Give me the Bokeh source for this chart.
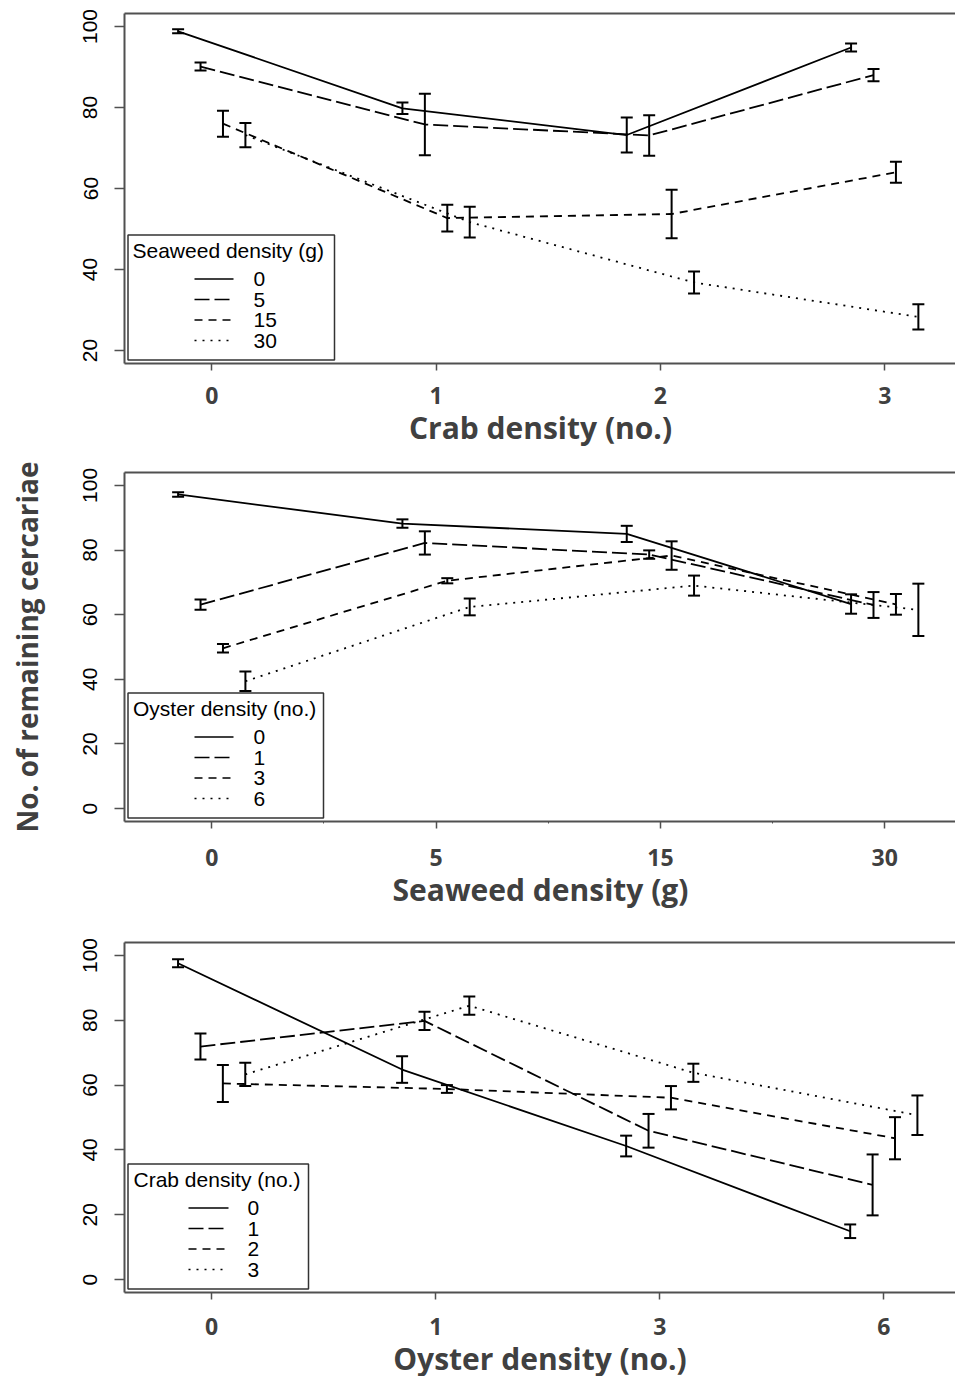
import numpy as np
from bokeh.plotting import figure
from bokeh.layouts import column
from bokeh.models import (ColumnDataSource, Whisker, TeeHead, FixedTicker,
                          LinearAxis, Range1d, BoxAnnotation, Label, Arrow)
from bokeh.embed import file_html
from bokeh.resources import INLINE

# ---------------- data ----------------
# Panel 1: x = crab density, series = seaweed density
p1_x_labels = ["0", "1", "2", "3"]
p1_series = ["0", "5", "15", "30"]
p1_means = [[98.8, 79.8, 73.2, 94.8],
            [90.1, 75.8, 73.1, 88.0],
            [76.0, 52.7, 53.7, 64.0],
            [73.2, 51.7, 36.8, 28.3]]
p1_errs = [[0.5, 1.4, 4.3, 1.0],
           [1.0, 7.6, 5.0, 1.5],
           [3.2, 3.3, 6.0, 2.6],
           [3.0, 3.8, 2.7, 3.1]]

# Panel 2: x = seaweed density, series = oyster density
p2_x_labels = ["0", "5", "15", "30"]
p2_series = ["0", "1", "3", "6"]
p2_means = [[97.2, 88.2, 85.0, 63.3],
            [63.1, 82.2, 78.6, 63.0],
            [49.6, 70.5, 78.3, 63.2],
            [39.4, 62.4, 69.0, 61.5]]
p2_errs = [[0.7, 1.3, 2.5, 3.0],
           [1.6, 3.6, 1.3, 4.0],
           [1.3, 0.8, 4.4, 3.2],
           [3.0, 2.6, 3.1, 8.1]]

# Panel 3: x = oyster density, series = crab density
p3_x_labels = ["0", "1", "3", "6"]
p3_series = ["0", "1", "2", "3"]
p3_means = [[97.6, 64.8, 41.2, 14.9],
            [71.9, 79.8, 45.9, 29.2],
            [60.5, 58.8, 56.1, 43.6],
            [63.3, 84.5, 63.8, 50.7]]
p3_errs = [[1.2, 4.1, 3.2, 2.1],
           [4.0, 2.8, 5.2, 9.4],
           [5.7, 1.2, 3.6, 6.5],
           [3.6, 2.8, 2.8, 6.1]]

Y_TITLE = "No. of remaining cercariae"

# ---------------- styles ----------------
OFFSETS = [-0.15, -0.05, 0.05, 0.15]
DASHES = ["solid", "15 5", "8 6", "2 6"]
AXIS_COL = "#505050"
TEXT_COL = "#404040"
TITLE_FONT = "Open Sans"
R_FONT = "Liberation Sans"
X_START, X_END = -0.389, 3.32


def add_legend(p, title, series, box_right, glyph_x0, glyph_x1, label_x, title_x):
    # screen units measured from the frame's bottom-left corner
    box = BoxAnnotation(left=3.5, right=box_right, bottom=3.5, top=128.5,
                        left_units="screen", right_units="screen",
                        bottom_units="screen", top_units="screen",
                        fill_color="white", fill_alpha=1.0,
                        line_color="#333333", line_width=1.5, line_alpha=1.0)
    p.add_layout(box)
    p.add_layout(Label(x=title_x, y=113, x_units="screen", y_units="screen",
                       text=title, text_font=R_FONT, text_font_size="21px",
                       text_color="black", text_baseline="middle", text_align="left"))
    rows = [84.5, 64.0, 43.5, 23.0]
    for k, s in enumerate(series):
        p.add_layout(Arrow(end=None, x_start=glyph_x0, x_end=glyph_x1,
                           y_start=rows[k], y_end=rows[k],
                           start_units="screen", end_units="screen",
                           line_color="black", line_width=1.7, line_dash=DASHES[k]))
        p.add_layout(Label(x=label_x, y=rows[k], x_units="screen", y_units="screen",
                           text=s, text_font=R_FONT, text_font_size="21px",
                           text_color="black", text_baseline="middle",
                           text_align="left"))


def title_axis(label, standoff, size):
    ax = LinearAxis(ticker=FixedTicker(ticks=[]))
    ax.axis_line_color = None
    ax.major_tick_out = 0
    ax.major_tick_in = 0
    ax.minor_tick_out = 0
    ax.minor_tick_in = 0
    ax.major_label_standoff = 0
    ax.major_label_text_font_size = "0px"
    ax.axis_label = label
    ax.axis_label_text_font = TITLE_FONT
    ax.axis_label_text_font_style = "bold"
    ax.axis_label_text_font_size = size
    ax.axis_label_text_color = TEXT_COL
    ax.axis_label_standoff = standoff
    return ax


def make_panel(x_labels, series, means, errs, y_range, y_ticks, legend_title,
               x_title, frame_h, top, bottom, left, legend_geom,
               minor=False, y_title=None, label_standoff=12, title_standoff=2):
    p = figure(width=955, height=top + frame_h + bottom,
               frame_width=955 - left, frame_height=frame_h,
               x_range=Range1d(X_START, X_END), y_range=Range1d(*y_range),
               output_backend="svg", toolbar_location=None,
               min_border_left=left, min_border_right=0,
               min_border_top=top, min_border_bottom=bottom,
               x_axis_location=None, y_axis_location=None)
    p.outline_line_color = None
    p.xgrid.visible = False
    p.ygrid.visible = False
    p.background_fill_color = "white"
    p.border_fill_color = "white"

    xs = np.arange(len(x_labels))
    for k in range(len(series)):
        x = xs + OFFSETS[k]
        m = np.array(means[k])
        e = np.array(errs[k])
        src = ColumnDataSource(dict(x=x, y=m, lo=m - e, hi=m + e))
        p.line("x", "y", source=src, line_color="black", line_width=1.8,
               line_dash=DASHES[k])
        w = Whisker(base="x", upper="hi", lower="lo", source=src,
                    line_color="black", line_width=2,
                    upper_head=TeeHead(size=12, line_width=2, line_color="black"),
                    lower_head=TeeHead(size=12, line_width=2, line_color="black"))
        p.add_layout(w)

    # left axis
    ya = LinearAxis(ticker=FixedTicker(ticks=y_ticks))
    ya.axis_line_color = AXIS_COL
    ya.axis_line_width = 2
    ya.major_tick_out = 10
    ya.major_tick_in = 0
    ya.major_tick_line_color = AXIS_COL
    ya.major_tick_line_width = 1.5
    ya.minor_tick_out = 0
    ya.minor_tick_in = 0
    ya.major_label_orientation = "vertical"
    ya.major_label_text_font = R_FONT
    ya.major_label_text_font_size = "21px"
    ya.major_label_text_color = "black"
    ya.major_label_standoff = 17
    p.add_layout(ya, "left")
    if y_title:
        p.add_layout(title_axis(y_title, 35, "28px"), "left")

    # bottom axis
    minor_ticks = [-0.5, 0.5, 1.5, 2.5, 3.5] if minor else []
    xa = LinearAxis(ticker=FixedTicker(ticks=list(range(len(x_labels))),
                                       minor_ticks=minor_ticks))
    xa.major_label_overrides = {i: s for i, s in enumerate(x_labels)}
    xa.axis_line_color = AXIS_COL
    xa.axis_line_width = 2
    xa.major_tick_out = 7
    xa.major_tick_in = 0
    xa.major_tick_line_color = AXIS_COL
    xa.major_tick_line_width = 1.5
    xa.minor_tick_out = 2 if minor else 0
    xa.minor_tick_in = 0
    xa.minor_tick_line_color = AXIS_COL
    xa.major_label_text_font = TITLE_FONT
    xa.major_label_text_font_style = "bold"
    xa.major_label_text_font_size = "23px"
    xa.major_label_text_color = TEXT_COL
    xa.major_label_standoff = label_standoff
    p.add_layout(xa, "below")
    p.add_layout(title_axis(x_title, title_standoff, "30px"), "below")

    # top border line
    ta = LinearAxis(ticker=FixedTicker(ticks=[]))
    ta.axis_line_color = AXIS_COL
    ta.axis_line_width = 2
    ta.major_tick_out = 0
    ta.minor_tick_out = 0
    ta.major_label_text_font_size = "0px"
    p.add_layout(ta, "above")

    add_legend(p, legend_title, series, *legend_geom)
    return p


p1 = make_panel(p1_x_labels, p1_series, p1_means, p1_errs, (16.8, 103.2),
                [20, 40, 60, 80, 100], "Seaweed density (g)", "Crab density (no.)",
                frame_h=350, top=13, bottom=97, left=123,
                legend_geom=(210, 70, 109, 129, 8),
                label_standoff=16, title_standoff=0)
p2 = make_panel(p2_x_labels, p2_series, p2_means, p2_errs, (-4.0, 104.0),
                [0, 20, 40, 60, 80, 100], "Oyster density (no.)", "Seaweed density (g)",
                frame_h=349, top=12, bottom=109, left=123,
                legend_geom=(199, 70, 109, 129, 8.5),
                minor=True, y_title=Y_TITLE, label_standoff=20, title_standoff=0)
p3 = make_panel(p3_x_labels, p3_series, p3_means, p3_errs, (-4.0, 104.0),
                [0, 20, 40, 60, 80, 100], "Crab density (no.)", "Oyster density (no.)",
                frame_h=350, top=12, bottom=84, left=124,
                legend_geom=(184, 64, 104, 123, 9),
                label_standoff=18, title_standoff=0)

layout = column(p1, p2, p3, spacing=0)
open("out.html", "w").write(file_html(layout, INLINE))
